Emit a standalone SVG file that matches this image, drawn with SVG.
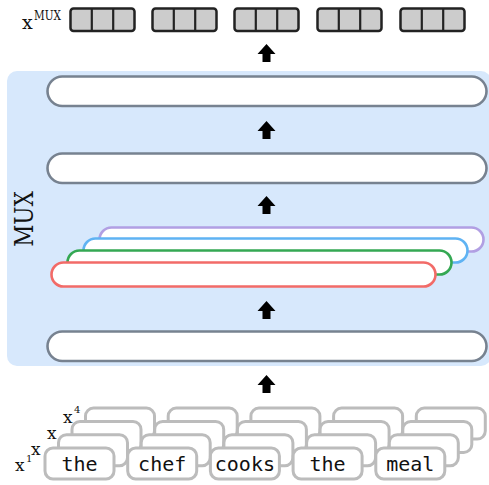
<svg xmlns="http://www.w3.org/2000/svg" xmlns:xlink="http://www.w3.org/1999/xlink" width="489" height="485" viewBox="0 0 489 485">
  <style>
    .bar { fill: #ffffff; stroke: #778290; stroke-width: 2.6; }
    .lane { fill: #ffffff; stroke-width: 2.6; }
    .tok { fill: #ffffff; stroke: #bcbcbc; stroke-width: 3; }
    .cell { fill: #cccccc; stroke: #222222; stroke-width: 2.5; }
    .div { stroke: #222222; stroke-width: 2.2; }
    .word { font-family: "DejaVu Sans Mono", monospace; font-size: 20px; fill: #111111; text-anchor: middle; }
    .var { font-family: "DejaVu Serif", serif; fill: #111111; }
    .tt { font-family: "DejaVu Serif", serif; fill: #111111; }
    .arrow { fill: #000000; }
  </style>
  <defs>
    <!-- block arrow pointing up, tip at (0,0) -->
    <path id="up" d="M0,0 L9,10 L4,10 L4,18 L-4,18 L-4,10 L-9,10 Z"/>
  </defs>

  <!-- mux region -->
  <g id="mux">
    <rect x="7" y="71" width="484" height="295" rx="10" fill="#d7e8fc"/>
    <text class="tt" font-size="24" transform="translate(33,219) rotate(-90) scale(0.9,1.1)" text-anchor="middle">MUX</text>
  </g>

  <!-- stacked layer bars -->
  <g id="layer-top"><rect class="bar" x="47.5" y="76.5" width="439" height="29.5" rx="14.75"/></g>
  <g id="layer-mid"><rect class="bar" x="47.5" y="153.5" width="439" height="29.5" rx="14.75"/></g>
  <g id="layer-bottom"><rect class="bar" x="47.5" y="331.5" width="439" height="29.5" rx="14.75"/></g>

  <!-- four parallel lanes -->
  <g id="lane-4"><rect class="lane" stroke="#b19fe3" x="99.5" y="227.5" width="384" height="24" rx="12"/></g>
  <g id="lane-3"><rect class="lane" stroke="#5fb3f3" x="83.5" y="238.5" width="384" height="24" rx="12"/></g>
  <g id="lane-2"><rect class="lane" stroke="#34a853" x="67.5" y="250.5" width="384" height="24" rx="12"/></g>
  <g id="lane-1"><rect class="lane" stroke="#f26b68" x="51.5" y="262.5" width="384" height="24" rx="12"/></g>

  <!-- arrows -->
  <g id="connectors" class="arrow">
    <use xlink:href="#up" transform="translate(266.5,44)"/>
    <use xlink:href="#up" transform="translate(266.5,121)"/>
    <use xlink:href="#up" transform="translate(266.5,196)"/>
    <use xlink:href="#up" transform="translate(266.5,301)"/>
    <use xlink:href="#up" transform="translate(266.5,375)"/>
  </g>

  <!-- output vectors -->
  <g id="output">
    <text class="var" x="22" y="29" font-size="19">x</text>
    <text class="tt" x="34" y="20" font-size="11" transform="translate(34,20) scale(0.95,1.2) translate(-34,-20)">MUX</text>
    <g id="out-1">
      <rect class="cell" x="70.5" y="8.5" width="64" height="22.5" rx="3"/>
      <line class="div" x1="91.8" y1="8.5" x2="91.8" y2="31"/><line class="div" x1="113.2" y1="8.5" x2="113.2" y2="31"/>
    </g>
    <g id="out-2">
      <rect class="cell" x="152.5" y="8.5" width="64" height="22.5" rx="3"/>
      <line class="div" x1="173.8" y1="8.5" x2="173.8" y2="31"/><line class="div" x1="195.2" y1="8.5" x2="195.2" y2="31"/>
    </g>
    <g id="out-3">
      <rect class="cell" x="234.5" y="8.5" width="64" height="22.5" rx="3"/>
      <line class="div" x1="255.8" y1="8.5" x2="255.8" y2="31"/><line class="div" x1="277.2" y1="8.5" x2="277.2" y2="31"/>
    </g>
    <g id="out-4">
      <rect class="cell" x="317.5" y="8.5" width="64" height="22.5" rx="3"/>
      <line class="div" x1="338.8" y1="8.5" x2="338.8" y2="31"/><line class="div" x1="360.2" y1="8.5" x2="360.2" y2="31"/>
    </g>
    <g id="out-5">
      <rect class="cell" x="400.5" y="8.5" width="64" height="22.5" rx="3"/>
      <line class="div" x1="421.8" y1="8.5" x2="421.8" y2="31"/><line class="div" x1="443.2" y1="8.5" x2="443.2" y2="31"/>
    </g>
  </g>

  <!-- input copies x^4 .. x^1 (back to front) -->
  <g id="input-4">
    <rect class="tok" x="85.5" y="408.1" width="69" height="31" rx="8"/>
    <rect class="tok" x="168.2" y="408.1" width="69" height="31" rx="8"/>
    <rect class="tok" x="250.9" y="408.1" width="69" height="31" rx="8"/>
    <rect class="tok" x="333.6" y="408.1" width="69" height="31" rx="8"/>
    <rect class="tok" x="416.3" y="408.1" width="69" height="31" rx="8"/>
  </g>
  <g id="input-3">
    <rect class="tok" x="72" y="421.4" width="69" height="31" rx="8"/>
    <rect class="tok" x="154.7" y="421.4" width="69" height="31" rx="8"/>
    <rect class="tok" x="237.4" y="421.4" width="69" height="31" rx="8"/>
    <rect class="tok" x="320.1" y="421.4" width="69" height="31" rx="8"/>
    <rect class="tok" x="402.8" y="421.4" width="69" height="31" rx="8"/>
  </g>
  <g id="input-2">
    <rect class="tok" x="58.5" y="434.7" width="69" height="31" rx="8"/>
    <rect class="tok" x="141.2" y="434.7" width="69" height="31" rx="8"/>
    <rect class="tok" x="223.9" y="434.7" width="69" height="31" rx="8"/>
    <rect class="tok" x="306.6" y="434.7" width="69" height="31" rx="8"/>
    <rect class="tok" x="389.3" y="434.7" width="69" height="31" rx="8"/>
  </g>
  <g id="input-1">
    <g id="tok-the"><rect class="tok" x="45" y="448" width="69" height="31" rx="8"/><text class="word" x="79.5" y="471">the</text></g>
    <g id="tok-chef"><rect class="tok" x="127.7" y="448" width="69" height="31" rx="8"/><text class="word" x="162.2" y="471">chef</text></g>
    <g id="tok-cooks"><rect class="tok" x="210.4" y="448" width="69" height="31" rx="8"/><text class="word" x="244.9" y="471">cooks</text></g>
    <g id="tok-the-2"><rect class="tok" x="293.1" y="448" width="69" height="31" rx="8"/><text class="word" x="327.6" y="471">the</text></g>
    <g id="tok-meal"><rect class="tok" x="375.8" y="448" width="69" height="31" rx="8"/><text class="word" x="410.3" y="471">meal</text></g>
  </g>

  <!-- copy labels -->
  <g id="input-labels">
    <text class="var" x="15" y="471" font-size="17">x</text>
    <text class="var" x="26" y="462" font-size="10">1</text>
    <text class="var" x="31" y="455" font-size="17">x</text>
    <text class="var" x="47" y="439" font-size="17">x</text>
    <text class="var" x="63" y="423" font-size="17">x</text>
    <text class="var" x="74" y="413" font-size="10">4</text>
  </g>
</svg>
